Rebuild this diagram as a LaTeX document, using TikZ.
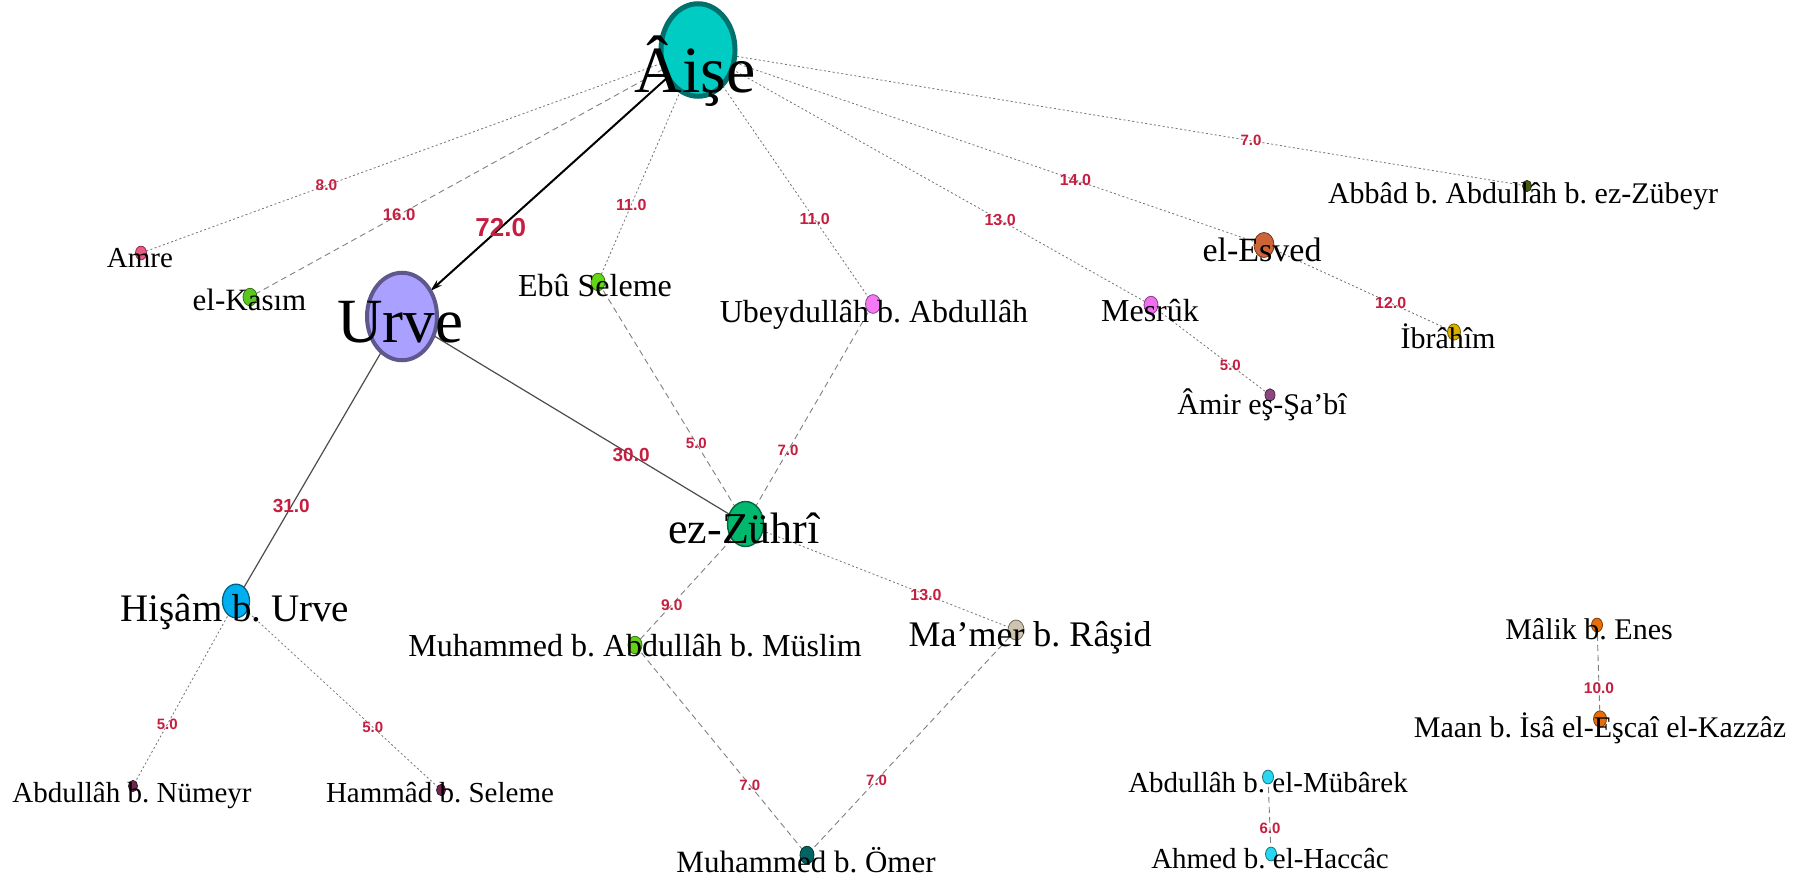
\documentclass[tikz,border=0pt]{standalone}
\usepackage{fontspec}
\setmainfont{Liberation Serif}
\setsansfont{Liberation Sans}
\usetikzlibrary{arrows.meta, shapes.geometric}
\pgfdeclarelayer{links}
\pgfsetlayers{links,main}
\frenchspacing

\definecolor{wtred}{RGB}{198,30,64}
\definecolor{aisecol}{RGB}{0,204,196}
\definecolor{urvecol}{RGB}{170,160,255}
\definecolor{amrecol}{RGB}{236,90,130}
\definecolor{kasimcol}{RGB}{90,200,30}
\definecolor{ebucol}{RGB}{100,215,20}
\definecolor{ubeydcol}{RGB}{245,120,245}
\definecolor{mesrukcol}{RGB}{240,110,240}
\definecolor{esvedcol}{RGB}{205,100,55}
\definecolor{abbadcol}{RGB}{70,90,20}
\definecolor{ibrahimcol}{RGB}{215,175,0}
\definecolor{amircol}{RGB}{140,70,130}
\definecolor{zuhricol}{RGB}{0,185,110}
\definecolor{hisamcol}{RGB}{0,175,240}
\definecolor{mamcol}{RGB}{100,210,20}
\definecolor{mamercol}{RGB}{205,195,175}
\definecolor{numeyrcol}{RGB}{110,40,80}
\definecolor{omercol}{RGB}{0,100,100}
\definecolor{malikcol}{RGB}{230,110,10}
\definecolor{mubarekcol}{RGB}{40,215,240}

\begin{document}
\begin{tikzpicture}[
    x=0.5pt, y=-0.5pt,
    dot/.style={ellipse, inner sep=0pt, outer sep=0pt},
    lbl/.style={anchor=base, inner sep=0pt, font={\fontsize{#1}{#1}\selectfont}},
    wt/.style={pos=0.667, inner sep=0pt, text=wtred, font={\fontsize{#1}{#1}\selectfont\sffamily\bfseries}},
    strong/.style={black, line width=1pt, -{Stealth[length=6pt, width=3.5pt]}},
    solidlink/.style={black!70, line width=0.6pt},
    dashlink/.style={black!50, line width=0.45pt, dash pattern=on 3pt off 2pt},
    dotlink/.style={black!55, line width=0.4pt, dash pattern=on 1pt off 1.2pt}
]
\useasboundingbox (0,0) rectangle (1818,883);

% narrators
\foreach \n/\x/\y/\r/\c/\w in {
    aise/698/50/37/aisecol/2.5, urve/402/316.5/35/urvecol/2,
    amre/141/253/5.5/amrecol/0.4, kasim/250/297/7/kasimcol/0.4,
    ebu/598/282/7/ebucol/0.4, ubeyd/873/304/7.5/ubeydcol/0.4,
    mesruk/1151/305/7/mesrukcol/0.4, esved/1264/245/10/esvedcol/0.4,
    abbad/1527/186/4.5/abbadcol/0.4, ibrahim/1454/332/6.5/ibrahimcol/0.4,
    amir/1270/395/5/amircol/0.4, zuhri/745.5/524/18/zuhricol/0.7,
    hisam/236/601/13.5/hisamcol/0.6, mam/635/645/7/mamcol/0.4,
    mamer/1016/630/8/mamercol/0.4, numeyr/133/786/4.5/numeyrcol/0.4,
    hammad/441/790/4.5/numeyrcol/0.4, omer/807/855/7/omercol/0.4,
    malik/1597/625/5.5/malikcol/0.4, maan/1600/719/6.5/malikcol/0.4,
    mubarek/1268/777/5.5/mubarekcol/0.4, ahmed/1271/854/5.5/mubarekcol/0.4}
  \node[dot, fill=\c, draw=\c!55!black, line width={\w*1pt},
        minimum width={\r*1pt}, minimum height={\r*1.25pt}] (\n) at (\x,\y) {};

% names
\node[lbl=33] (aise-txt) at (695,93) {Âişe};
\node[lbl=31.5] (urve-txt) at (400,342) {Urve};
\node[lbl=14.5] (amre-txt) at (140,267) {Amre};
\node[lbl=15.5] (kasim-txt) at (249.5,310) {el-Kasım};
\node[lbl=16] (ebu-txt) at (595,296) {Ebû Seleme};
\node[lbl=16] (ubeyd-txt) at (874,322) {Ubeydullâh b. Abdullâh};
\node[lbl=16] (mesruk-txt) at (1150,321) {Mesrûk};
\node[lbl=17] (esved-txt) at (1262,261) {el-Esved};
\node[lbl=15] (abbad-txt) at (1523,203) {Abbâd b. Abdullâh b. ez-Zübeyr};
\node[lbl=15] (ibrahim-txt) at (1448,348) {İbrâhîm};
\node[lbl=15] (amir-txt) at (1262,414) {Âmir eş-Şa’bî};
\node[lbl=22] (zuhri-txt) at (744,543) {ez-Zührî};
\node[lbl=19.5] (hisam-txt) at (235,621) {Hişâm b. Urve};
\node[lbl=16] (mam-txt) at (635,656) {Muhammed b. Abdullâh b. Müslim};
\node[lbl=18] (mamer-txt) at (1030,646) {Ma’mer b. Râşid};
\node[lbl=14.5] (numeyr-txt) at (132,802) {Abdullâh b. Nümeyr};
\node[lbl=14.5] (hammad-txt) at (440,802) {Hammâd b. Seleme};
\node[lbl=15.5] (omer-txt) at (806,872) {Muhammed b. Ömer};
\node[lbl=15] (malik-txt) at (1589,639) {Mâlik b. Enes};
\node[lbl=15] (maan-txt) at (1600,737) {Maan b. İsâ el-Eşcaî el-Kazzâz};
\node[lbl=14.5] (mubarek-txt) at (1268,792) {Abdullâh b. el-Mübârek};
\node[lbl=14.5] (ahmed-txt) at (1270,868) {Ahmed b. el-Haccâc};

% links with counts
\begin{pgfonlayer}{links}
\draw[strong] (aise.center) -- node[wt=13, pos=0.737] {72.0} (urve);
\draw[dotlink] (aise.center) -- node[wt=7.75] {8.0} (amre.center);
\draw[dashlink] (aise.center) -- node[wt=8.4] {16.0} (kasim.center);
\draw[dotlink] (aise.center) -- node[wt=8] {11.0} (ebu.center);
\draw[dotlink] (aise.center) -- node[wt=8] {11.0} (ubeyd.center);
\draw[dotlink] (aise.center) -- node[wt=8] {13.0} (mesruk.center);
\draw[dotlink] (aise.center) -- node[wt=8] {14.0} (esved.center);
\draw[dotlink] (aise.center) -- node[wt=7.5] {7.0} (abbad.center);
\draw[dotlink] (esved.center) -- node[wt=8] {12.0} (ibrahim.center);
\draw[dotlink] (mesruk.center) -- node[wt=7.5] {5.0} (amir.center);
\draw[solidlink] (urve.center) -- node[wt=9.5] {30.0} (zuhri.center);
\draw[solidlink] (urve.center) -- node[wt=9.5] {31.0} (hisam.center);
\draw[dashlink] (ebu.center) -- node[wt=7.5] {5.0} (zuhri.center);
\draw[dashlink] (ubeyd.center) -- node[wt=7.5] {7.0} (zuhri.center);
\draw[dashlink] (zuhri.center) -- node[wt=7.75] {9.0} (mam.center);
\draw[dotlink] (zuhri.center) -- node[wt=8] {13.0} (mamer.center);
\draw[dotlink] (hisam.center) -- node[wt=7.5] {5.0} (numeyr.center);
\draw[dotlink] (hisam.center) -- node[wt=7.5] {5.0} (hammad.center);
\draw[dashlink] (mam.center) -- node[wt=7.5] {7.0} (omer.center);
\draw[dashlink] (mamer.center) -- node[wt=7.5] {7.0} (omer.center);
\draw[dashlink] (malik.center) -- node[wt=7.75] {10.0} (maan.center);
\draw[dashlink] (mubarek.center) -- node[wt=7.5] {6.0} (ahmed.center);
\end{pgfonlayer}
\end{tikzpicture}
\end{document}
